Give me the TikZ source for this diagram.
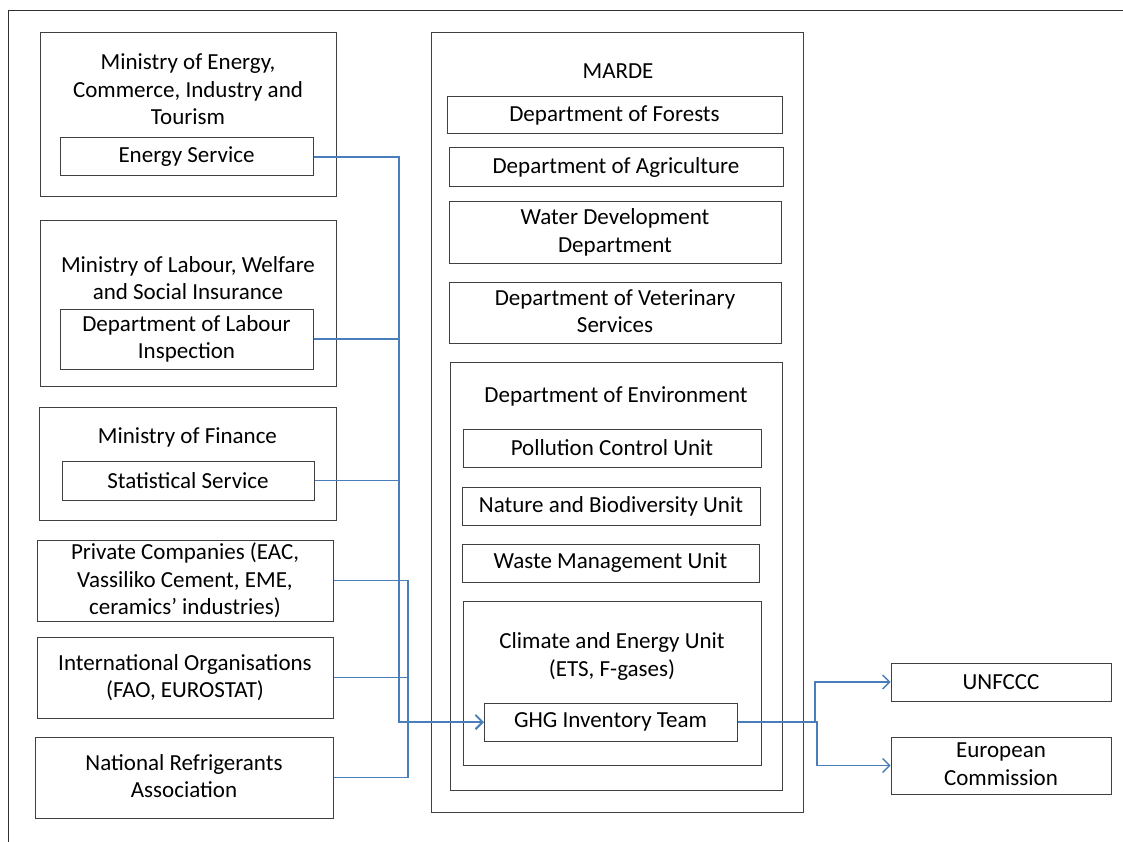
\documentclass[tikz,border=0pt]{standalone}
\usepackage{fontspec}
\setmainfont{Carlito}
\usetikzlibrary{arrows.meta}
\definecolor{connc}{HTML}{4A7EBB}
\definecolor{boxc}{HTML}{404040}
\definecolor{framec}{HTML}{303030}
\begin{document}
\begin{tikzpicture}[x=1pt,y=-1pt,
  txt/.style={font=\fontsize{23}{27.5}\selectfont, align=center, text=black},
  box/.style={draw=boxc, line width=1pt, inner sep=0pt, txt},
  lbl/.style={inner sep=0pt, txt},
  conn/.style={draw=connc, line width=1.4pt},
  arr/.style={conn, -{Straight Barb[length=7pt,width=14pt,line width=1.4pt]}}
]
\useasboundingbox (0,0) rectangle (1123,842);
\draw[framec, line width=0.8pt] (8,842) -- (8,10) -- (1123,10);

% left column
\node[box, minimum width=296pt, minimum height=164pt] (meo) at (188,115) {};
\node[lbl] (mel) at (188,89.5) {Ministry of Energy,\\Commerce, Industry and\\Tourism};
\node[box, minimum width=253pt, minimum height=38pt] (es) at (186.5,157) {\raisebox{-2pt}{Energy Service}};

\node[box, minimum width=296pt, minimum height=165pt] (mlo) at (188,303.5) {};
\node[lbl] (mll) at (188,278) {Ministry of Labour, Welfare\\and Social Insurance};
\node[box, minimum width=253pt, minimum height=60pt] (dli) at (186.5,339) {Department of Labour\\Inspection\rule[-2pt]{0pt}{0pt}};

\node[box, minimum width=297pt, minimum height=113pt] (mfo) at (187.5,463.5) {};
\node[lbl] (mfl) at (187.5,437.5) {Ministry of Finance};
\node[box, minimum width=252pt, minimum height=39pt] (ss) at (188,480.5) {\raisebox{-2pt}{Statistical Service}};

\node[box, minimum width=296pt, minimum height=81pt] (pc) at (185,580.5) {Private Companies (EAC,\\Vassiliko Cement, EME,\\ceramics’ industries)\rule[-3pt]{0pt}{0pt}};
\node[box, minimum width=296pt, minimum height=81pt] (io) at (185,677.5) {International Organisations\\(FAO, EUROSTAT)\rule[-3pt]{0pt}{0pt}};
\node[box, minimum width=298pt, minimum height=81pt] (nr) at (184,777.5) {National Refrigerants\\Association\rule[-3pt]{0pt}{0pt}};

% MARDE
\node[box, minimum width=372pt, minimum height=779pt] (marde) at (617,422.5) {};
\node[lbl] (mardel) at (618,71.5) {MARDE};
\node[box, minimum width=335pt, minimum height=37pt] (df) at (614.5,115.5) {\raisebox{-2pt}{Department of Forests}};
\node[box, minimum width=334pt, minimum height=39pt] (da) at (616,167.5) {\raisebox{-2pt}{Department of Agriculture}};
\node[box, minimum width=332pt, minimum height=61pt] (wd) at (615,232.5) {Water Development\\Department\rule[-3pt]{0pt}{0pt}};
\node[box, minimum width=332pt, minimum height=61pt] (dv) at (615,312.5) {Department of Veterinary\\Services\rule[-3pt]{0pt}{0pt}};

\node[box, minimum width=332pt, minimum height=428pt] (de) at (616,576) {};
\node[lbl] (del) at (616,396.5) {Department of Environment};
\node[box, minimum width=298pt, minimum height=38pt] (pcu) at (612,448) {\raisebox{-2pt}{Pollution Control Unit}};
\node[box, minimum width=298pt, minimum height=38pt] (nbu) at (611,506) {\raisebox{-2pt}{Nature and Biodiversity Unit}};
\node[box, minimum width=297pt, minimum height=38pt] (wmu) at (610.5,563) {\raisebox{-2pt}{Waste Management Unit}};
\node[box, minimum width=298pt, minimum height=164pt] (ceu) at (612,683) {};
\node[lbl] (ceul) at (612,656.5) {Climate and Energy Unit\\(ETS, F-gases)};
\node[box, minimum width=253pt, minimum height=38pt] (ghg) at (610.5,722) {\raisebox{-2pt}{GHG Inventory Team}};

% right
\node[box, minimum width=220pt, minimum height=38pt] (un) at (1001,682) {\raisebox{-2pt}{UNFCCC}};
\node[box, minimum width=220pt, minimum height=57pt] (ec) at (1001,765.5) {European\\Commission\rule[-3pt]{0pt}{0pt}};

% connectors
\coordinate (busA) at (399,722);
\coordinate (busB) at (408,722);
\coordinate (splitA) at (815,722);
\coordinate (splitB) at (817,722);
\draw[arr] (es.east) -| (busA) -- (ghg.west);
\draw[arr] (dli.east) -| (busA) -- (ghg.west);
\draw[arr] (ss.east) -| (busA) -- (ghg.west);
\draw[arr] (pc.east) -| (busB) -- (ghg.west);
\draw[arr] (io.east) -| (busB) -- (ghg.west);
\draw[arr] (nr.east) -| (busB) -- (ghg.west);
\draw[arr] (ghg.east) -- (splitA) |- (un.west);
\draw[arr] (ghg.east) -- (splitB) |- (ec.west);
\end{tikzpicture}
\end{document}
